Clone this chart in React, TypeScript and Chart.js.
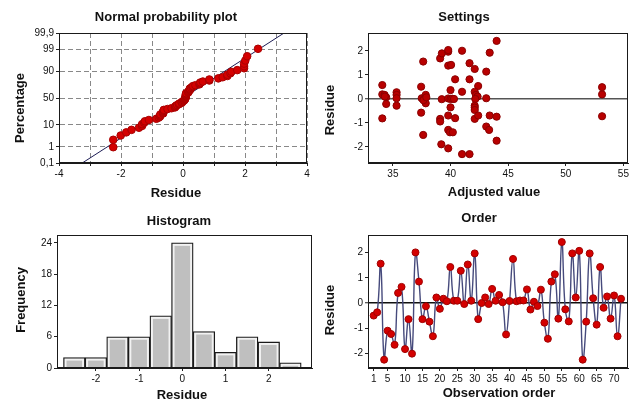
import React, { useEffect, useRef } from 'react';
import { Chart, registerables } from 'chart.js';
Chart.register(...registerables);

// ---------------- DATA ----------------
// Residuals in observation order (1..72)
const orderResiduals = [
  -0.5, -0.37, 1.56, -2.25, -1.1, -1.23, -1.66, 0.4, 0.64, -1.83,
  -0.64, -2.01, 2.01, 0.85, -0.64, -0.13, -0.74, -1.32, 0.22, -0.23,
  0.17, 0.07, 1.43, 0.09, 0.09, 1.28, -0.04, 1.53, 0.09, 1.97,
  -0.64, 0, 0.22, -0.04, 0.56, 0.09, 0.32, 0.03, -1.25, 0.08,
  1.75, 0.07, 0.1, 0.1, 0.54, -0.26, 0.05, -0.12, 0.53, -0.78,
  -1.42, 0.85, 1.14, -0.62, 2.42, -0.25, -0.73, 1.97, 0.22, 2.07,
  -2.25, -0.74, 1.97, 0.19, -0.86, 1.43, -0.19, 0.26, -0.62, 0.3,
  -1.32, 0.17,
];

// Settings panel: adjusted (fitted) value vs residual
const adjustedValues = [
  34.08, 34.08, 34.08, 34.28, 34.42, 34.42, 34.3,
  35.32, 35.32, 35.32, 35.32,
  37.45, 37.63, 37.45, 37.63, 37.5, 37.7, 37.85, 37.85, 37.65, 37.9,
  39.24, 39.1, 39.1, 39.1, 39.25, 39.2,
  39.8, 39.8, 39.8, 40.05, 40.0, 39.8, 40.0, 40.15, 40.3, 40.0, 39.8, 39.8, 39.95, 40.2, 39.8, 40.4, 40.4,
  41.0, 41.0, 41.0, 41.65, 41.65, 41.65,
  42.1, 42.4, 42.1, 42.2, 42.35, 42.15, 42.1, 42.1, 42.1, 42.1, 42.4,
  43.1, 43.1, 43.1, 43.35, 43.4, 43.4,
  44.0, 44.0, 44.0,
  53.15, 53.15, 53.15,
];
const adjustedResiduals = [
  0.58, 0.19, -0.81, 0.17, 0.07, -0.21, 0.1,
  0.28, 0.17, 0.03, -0.28,
  0.51, 1.56, -0.57, -1.5, 0.03, 0.0, 0.17, -0.18, -0.05, 0.07,
  -0.01, -0.83, -0.94, 1.69, 1.9, -1.89,
  1.97, 2.04, 1.39, 1.42, 0.37, 0.02, 0.0, 0.01, 0.0, -0.35, -0.69, -1.29, -1.39, -1.39, -2.06, -0.8, 0.82,
  2.01, 0.3, -2.3, -2.3, 1.49, 0.82,
  1.25, 0.54, 0.3, 0.17, 0.1, 0.0, -0.28, -0.36, -0.46, -0.83, -0.69,
  1.14, 0.03, -1.15, -1.29, 1.93, -0.69,
  2.42, -0.74, -1.74,
  0.49, 0.19, -0.72,
];

// Histogram
const histCenters = [-2.5, -2, -1.5, -1, -0.5, 0, 0.5, 1, 1.5, 2, 2.5];
const histCounts = [2, 2, 6, 6, 10, 24, 7, 3, 6, 5, 1];

// Normal probability plot
const probPercents = [0.1, 1, 10, 50, 90, 99, 99.9];
const probLabels = ['0,1', '1', '10', '50', '90', '99', '99,9'];
const refLineX = [-3.25, 3.26];
const refLinePct = [0.1, 99.9];

// Tick values
const probXTicks = [-4, -3, -2, -1, 0, 1, 2, 3, 4];
const residTicks = [-2, -1, 0, 1, 2];
const settingsXTicks = [35, 40, 45, 50, 55];
const histXTicks = [-2, -1, 0, 1, 2];
const histYTicks = [0, 6, 12, 18, 24];
const orderXTicks = [1, 5, 10, 15, 20, 25, 30, 35, 40, 45, 50, 55, 60, 65, 70];

// ---------------- HELPERS ----------------
function invNorm(p: number): number {
  const a = [-3.969683028665376e1, 2.209460984245205e2, -2.759285104469687e2, 1.38357751867269e2, -3.066479806614716e1, 2.506628277459239];
  const b = [-5.447609879822406e1, 1.615858368580409e2, -1.556989798598866e2, 6.680131188771972e1, -1.328068155288572e1];
  const c = [-7.784894002430293e-3, -3.223964580411365e-1, -2.400758277161838, -2.549671010229583, 4.374664141464968, 2.938163982698783];
  const d = [7.784695709041462e-3, 3.224671290700398e-1, 2.445134137142996, 3.754408661907416];
  const pl = 0.02425, ph = 1 - pl;
  if (p < pl) {
    const q = Math.sqrt(-2 * Math.log(p));
    return (((((c[0] * q + c[1]) * q + c[2]) * q + c[3]) * q + c[4]) * q + c[5]) / ((((d[0] * q + d[1]) * q + d[2]) * q + d[3]) * q + 1);
  }
  if (p <= ph) {
    const q = p - 0.5, r = q * q;
    return (((((a[0] * r + a[1]) * r + a[2]) * r + a[3]) * r + a[4]) * r + a[5]) * q / (((((b[0] * r + b[1]) * r + b[2]) * r + b[3]) * r + b[4]) * r + 1);
  }
  const q = Math.sqrt(-2 * Math.log(1 - p));
  return -(((((c[0] * q + c[1]) * q + c[2]) * q + c[3]) * q + c[4]) * q + c[5]) / ((((d[0] * q + d[1]) * q + d[2]) * q + d[3]) * q + 1);
}

const tickFont = { family: 'Liberation Sans', size: 10 };
const titleFont = 'bold 13px "Liberation Sans"';
const INK = '#111';

type TextPos = { text: string; x: number; y: number };
function decor(id: string, title: TextPos, xTitle: TextPos, yTitle: TextPos) {
  return {
    id,
    afterDraw(chart: any) {
      const { ctx, chartArea: a } = chart;
      ctx.save();
      ctx.strokeStyle = '#1a1a1a';
      ctx.lineWidth = 1;
      ctx.setLineDash([]);
      ctx.strokeRect(Math.round(a.left) + 0.5, Math.round(a.top) + 0.5, Math.round(a.right - a.left) - 1, Math.round(a.bottom - a.top) - 1);
      ctx.fillStyle = INK;
      ctx.font = titleFont;
      ctx.textAlign = 'center';
      ctx.textBaseline = 'middle';
      ctx.fillText(title.text, title.x, title.y);
      ctx.fillText(xTitle.text, xTitle.x, xTitle.y);
      ctx.translate(yTitle.x, yTitle.y);
      ctx.rotate(-Math.PI / 2);
      ctx.fillText(yTitle.text, 0, 0);
      ctx.restore();
    },
  };
}

function scale(min: number, max: number, ticks: number[], isY: boolean, opts: any = {}) {
  return {
    type: 'linear',
    min,
    max,
    offset: false,
    afterBuildTicks: (s: any) => { s.ticks = ticks.map((v) => ({ value: v })); },
    afterFit: (s: any) => { if (isY) s.width = 30; else s.height = 22; },
    grid: {
      drawOnChartArea: opts.gridOn || false,
      drawTicks: true,
      tickLength: 3,
      tickColor: '#222',
      tickWidth: 1,
      offset: false,
      color: opts.gridColor || '#888',
      lineWidth: opts.gridWidth || 1,
    },
    border: { display: true, color: '#1a1a1a', width: 1, dash: opts.dash || [] },
    ticks: {
      font: tickFont,
      color: INK,
      padding: 2,
      autoSkip: false,
      maxRotation: 0,
      minRotation: 0,
      callback: opts.cb || ((v: any) => String(v)),
    },
  };
}

const zeroColor = (c: string) => (ctx: any) => (ctx.tick && ctx.tick.value === 0 ? c : 'rgba(0,0,0,0)');
const zeroWidth = (ctx: any) => (ctx.tick && ctx.tick.value === 0 ? 1.5 : 1);

const common = {
  responsive: false,
  animation: false as const,
  devicePixelRatio: 1,
  plugins: { legend: { display: false }, tooltip: { enabled: false }, title: { display: false } },
  events: [] as any[],
};

// ---------------- CONFIGS ----------------
function cfgProb(): any {
  const sorted = [...orderResiduals].sort((a, b) => a - b);
  const n = sorted.length;
  const pts = sorted.map((v, i) => ({ x: v, y: invNorm((i + 1 - 0.3) / (n + 0.4)) }));
  const line = refLineX.map((x, i) => ({ x, y: invNorm(refLinePct[i] / 100) }));
  const zTicks = probPercents.map((p) => invNorm(p / 100));
  const zMin = zTicks[0], zMax = zTicks[zTicks.length - 1];
  return {
    type: 'scatter',
    data: {
      datasets: [
        { data: pts, pointRadius: 3.8, pointBackgroundColor: '#d40000', pointBorderColor: '#a80000', pointBorderWidth: 1, showLine: false },
        { data: line, showLine: true, pointRadius: 0, borderColor: '#1c1c55', borderWidth: 1, tension: 0 },
      ],
    },
    options: {
      ...common,
      layout: { padding: { left: 29, right: 326, top: 33, bottom: 229 } },
      scales: {
        x: scale(-4, 4, probXTicks, false, { gridOn: true, dash: [5, 3], cb: (v: any) => (v % 2 === 0 ? String(v) : '') }),
        y: scale(zMin, zMax, zTicks, true, {
          gridOn: true,
          dash: [5, 3],
          cb: (_v: any, i: number) => probLabels[i],
        }),
      },
    },
    plugins: [decor('d1', { text: 'Normal probability plot', x: 166, y: 17 }, { text: 'Residue', x: 176, y: 193 }, { text: 'Percentage', x: 20, y: 108 })],
  };
}

function cfgSettings(): any {
  const pts = adjustedValues.map((x, i) => ({ x, y: adjustedResiduals[i] }));
  return {
    type: 'scatter',
    data: {
      datasets: [
        { data: pts, pointRadius: 3.6, pointBackgroundColor: '#b80000', pointBorderColor: '#8a0000', pointBorderWidth: 1 },
      ],
    },
    options: {
      ...common,
      layout: { padding: { left: 338, right: 4, top: 33, bottom: 229 } },
      scales: {
        x: scale(32.84, 55.4, settingsXTicks, false),
        y: scale(-2.67, 2.75, residTicks, true, { gridOn: true, gridColor: zeroColor('#555'), gridWidth: zeroWidth }),
      },
    },
    plugins: [decor('d2', { text: 'Settings', x: 464, y: 17 }, { text: 'Adjusted value', x: 494, y: 192 }, { text: 'Residue', x: 330, y: 110 })],
  };
}

function cfgHist(): any {
  const pts = histCenters.map((x, i) => ({ x, y: histCounts[i] }));
  const inner = {
    id: 'innerBars',
    afterDatasetsDraw(chart: any) {
      const { ctx } = chart;
      const meta = chart.getDatasetMeta(0);
      ctx.save();
      ctx.fillStyle = '#bfbfbf';
      meta.data.forEach((el: any) => {
        const { x, y, base, width } = el.getProps(['x', 'y', 'base', 'width'], true);
        const h = base - y - 3;
        if (h > 0) ctx.fillRect(x - width / 2 + 3, y + 3, width - 6, h);
      });
      ctx.restore();
    },
  };
  return {
    type: 'bar',
    data: {
      datasets: [
        {
          data: pts,
          backgroundColor: '#f2f2f2',
          borderColor: '#1a1a1a',
          borderWidth: 1.3,
          barPercentage: 1,
          categoryPercentage: 1,
        },
      ],
    },
    options: {
      ...common,
      layout: { padding: { left: 27, right: 321, top: 235, bottom: 24 } },
      scales: {
        x: scale(-2.9, 3.0, histXTicks, false),
        y: scale(0, 25.5, histYTicks, true),
      },
    },
    plugins: [inner, decor('d3', { text: 'Histogram', x: 179, y: 221 }, { text: 'Residue', x: 182, y: 395 }, { text: 'Frequency', x: 21, y: 300 })],
  };
}

function cfgOrder(): any {
  const pts = orderResiduals.map((y, i) => ({ x: i + 1, y }));
  return {
    type: 'line',
    data: {
      datasets: [
        {
          data: pts,
          borderColor: '#464a7c',
          borderWidth: 1.4,
          tension: 0.45,
          pointRadius: 3.5,
          pointBackgroundColor: '#d40000',
          pointBorderColor: '#a00000',
          pointBorderWidth: 1,
          fill: false,
        },
      ],
    },
    options: {
      ...common,
      layout: { padding: { left: 338, right: 4, top: 235, bottom: 24 } },
      scales: {
        x: scale(-0.63, 74, orderXTicks, false),
        y: scale(-2.58, 2.7, residTicks, true, { gridOn: true, gridColor: zeroColor('#111'), gridWidth: zeroWidth }),
      },
    },
    plugins: [decor('d4', { text: 'Order', x: 479, y: 218 }, { text: 'Observation order', x: 499, y: 393 }, { text: 'Residue', x: 330, y: 310 })],
  };
}

// ---------------- COMPONENT ----------------
export default function App() {
  const r1 = useRef<HTMLCanvasElement>(null);
  const r2 = useRef<HTMLCanvasElement>(null);
  const r3 = useRef<HTMLCanvasElement>(null);
  const r4 = useRef<HTMLCanvasElement>(null);

  useEffect(() => {
    const charts = [
      new Chart(r1.current as HTMLCanvasElement, cfgProb()),
      new Chart(r2.current as HTMLCanvasElement, cfgSettings()),
      new Chart(r3.current as HTMLCanvasElement, cfgHist()),
      new Chart(r4.current as HTMLCanvasElement, cfgOrder()),
    ];
    return () => charts.forEach((c) => c.destroy());
  }, []);

  const cs: React.CSSProperties = { position: 'absolute', left: 0, top: 0, width: 633, height: 414 };
  return (
    <div style={{ position: 'absolute', left: 0, top: 0, width: 633, height: 414, background: '#fff', overflow: 'hidden' }}>
      <canvas ref={r1} width={633} height={414} style={cs} />
      <canvas ref={r2} width={633} height={414} style={cs} />
      <canvas ref={r3} width={633} height={414} style={cs} />
      <canvas ref={r4} width={633} height={414} style={cs} />
    </div>
  );
}
